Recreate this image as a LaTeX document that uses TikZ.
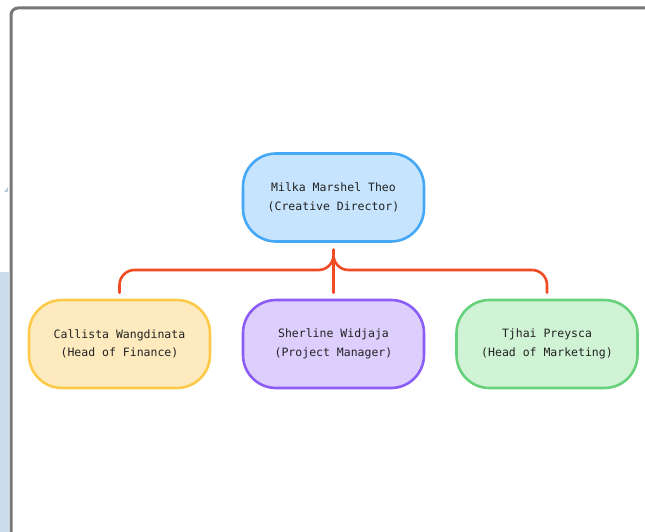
\documentclass[tikz,border=0pt]{standalone}
\usepackage{fontspec}
\setmonofont{DejaVu Sans Mono}
\definecolor{framegray}{HTML}{777777}
\definecolor{sidebg}{HTML}{CCDDEE}
\definecolor{txtgray}{HTML}{222222}
\definecolor{linkred}{HTML}{F04B23}
\definecolor{dirline}{HTML}{45A8F6}
\definecolor{dirfill}{HTML}{C6E4FD}
\definecolor{finline}{HTML}{FFC94A}
\definecolor{finfill}{HTML}{FDEABE}
\definecolor{pmline}{HTML}{8B5CF6}
\definecolor{pmfill}{HTML}{DCCEFD}
\definecolor{mktline}{HTML}{66D17A}
\definecolor{mktfill}{HTML}{D0F3D6}
\tikzset{
  person/.style={draw, line width=2.6pt, rounded corners=33pt,
    minimum width=181pt, minimum height=88pt, align=center,
    font=\ttfamily\fontsize{11.5}{18.5}\selectfont, text=txtgray},
  link/.style={draw=linkred, line width=2.6pt, rounded corners=15pt, line cap=round}
}
\begin{document}
\begin{tikzpicture}[x=1pt,y=-1pt, line join=round]
        \useasboundingbox (0,0) rectangle (645,532);
        %background
        \fill[sidebg] (0,272) rectangle (9,532);
        \fill[sidebg!80!gray] (4,192) -- (8,187) -- (8,192) -- cycle;
        \draw[framegray, line width=3pt, rounded corners=7pt] (11,540) -- (11,8) -- (650,8);
        %boxes
        \node[person, draw=dirline, fill=dirfill] (dir) at (333.5,197.5) {Milka Marshel Theo\\(Creative Director)};
        \node[person, draw=finline, fill=finfill] (fin) at (119.5,344) {Callista Wangdinata\\(Head of Finance)};
        \node[person, draw=pmline, fill=pmfill] (pm) at (333.5,344) {Sherline Widjaja\\(Project Manager)};
        \node[person, draw=mktline, fill=mktfill] (mkt) at (547,344) {Tjhai Preysca\\(Head of Marketing)};
        %links
        \coordinate (hub) at ([yshift=-7pt]dir.south);
        \draw[link] ([yshift=6pt]fin.north) |- (hub |- 0,270) -- (hub);
        \draw[link] ([yshift=6pt]mkt.north) |- (hub |- 0,270) -- (hub);
        \draw[link] ([yshift=6pt]pm.north) -- (hub);
\end{tikzpicture}
\end{document}
